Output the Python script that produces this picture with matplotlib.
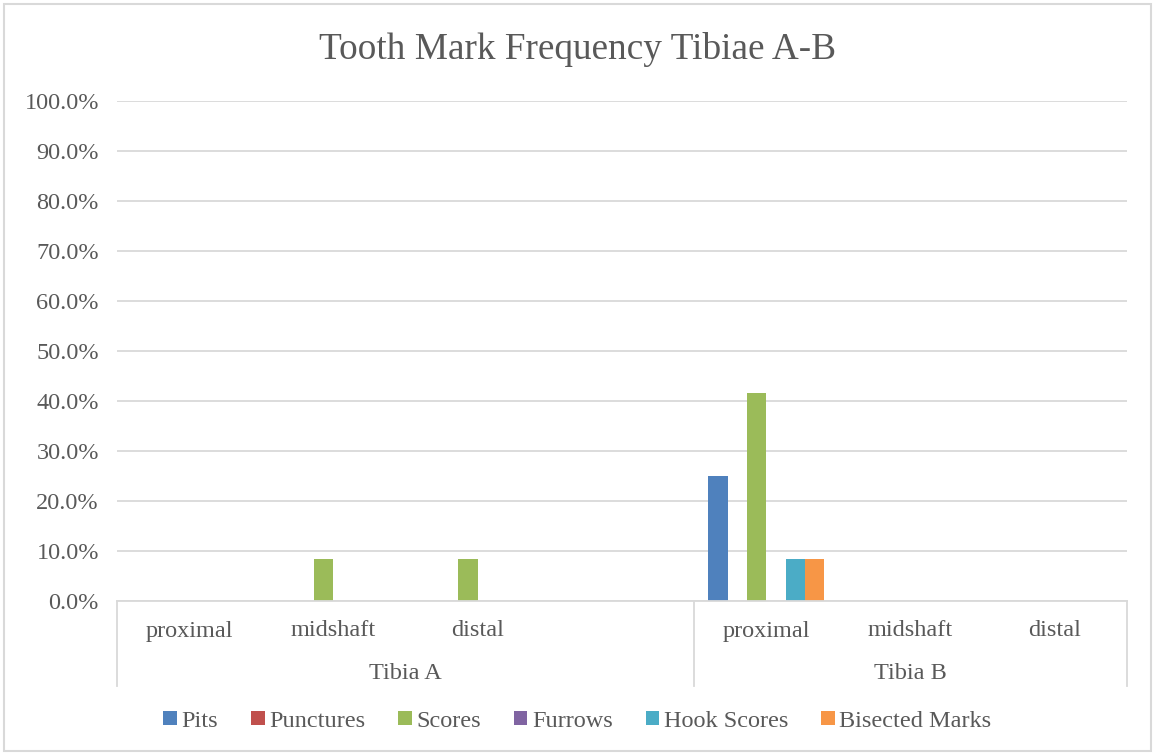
import numpy as np
import matplotlib.pyplot as plt
from matplotlib.patches import Rectangle
from matplotlib.transforms import blended_transform_factory

plt.rcParams['font.family'] = ['Liberation Serif', 'DejaVu Serif']

# category slots: Tibia A has an empty fourth slot
parts = ["proximal", "midshaft", "distal", "", "proximal", "midshaft", "distal"]
groups = ["Tibia A", "Tibia B"]
group_spans = [(0, 3), (4, 6)]

series = ["Pits", "Punctures", "Scores", "Furrows", "Hook Scores", "Bisected Marks"]
colors = ["#4F81BD", "#C0504D", "#9BBB59", "#8064A2", "#4BACC6", "#F79646"]

pits = [0, 0, 0, 0, 25.0, 0, 0]
punctures = [0, 0, 0, 0, 0, 0, 0]
scores = [0, 8.33, 8.33, 0, 41.67, 0, 0]
furrows = [0, 0, 0, 0, 0, 0, 0]
hook_scores = [0, 0, 0, 0, 8.33, 0, 0]
bisected = [0, 0, 0, 0, 8.33, 0, 0]
values = [pits, punctures, scores, furrows, hook_scores, bisected]

text_color = "#595959"
grid_color = "#D9D9D9"

fig = plt.figure(figsize=(11.55, 7.55), dpi=100)
ax = fig.add_axes([117 / 1155, 154 / 755, 1010 / 1155, 500 / 755])

x = np.arange(len(parts))
bar_w = 0.1337
start = -0.5 + 0.0988
for i, (name, vals, c) in enumerate(zip(series, values, colors)):
    ax.bar(x + start + i * bar_w, vals, width=bar_w, align="edge",
           color=c, label=name, zorder=3)

ax.set_xlim(-0.5, len(parts) - 0.5)
ax.set_ylim(0, 100)
ax.set_yticks(np.arange(0, 101, 10))
ax.set_yticklabels([f"{v:.1f}%" for v in range(0, 101, 10)])
ax.tick_params(axis="y", length=0, pad=13, labelsize=17.5, labelcolor=text_color)
ax.grid(axis="y", color=grid_color, linewidth=1.3, zorder=0)
ax.set_xticks([])
for s in ["top", "right", "left"]:
    ax.spines[s].set_visible(False)
ax.spines["bottom"].set_color(grid_color)
ax.spines["bottom"].set_linewidth(1.3)
ax.spines["bottom"].set_zorder(4)

trans = blended_transform_factory(ax.transData, ax.transAxes)
for xi, lab in zip(x, parts):
    ax.text(xi, -0.06, lab, transform=trans, ha="center", va="center",
            fontsize=17.5, color=text_color)
for g, (a, b) in zip(groups, group_spans):
    ax.text((a + b) / 2, -0.145, g, transform=trans, ha="center", va="center",
            fontsize=17.5, color=text_color)
for xv in [-0.5, 3.5, 6.5]:
    ax.plot([xv, xv], [0, -0.17], transform=trans, color=grid_color,
            linewidth=1.3, clip_on=False)

fig.text(0.5, 0.935, "Tooth Mark Frequency Tibiae A-B", ha="center", va="center",
         fontsize=26.8, color=text_color)

leg = fig.legend(loc="center", bbox_to_anchor=(0.5, 0.045), ncol=6, frameon=False,
                 prop={"family": "Liberation Serif", "size": 17.5},
                 handlelength=0.55, handleheight=0.55,
                 handletextpad=0.2, columnspacing=1.35)
for t in leg.get_texts():
    t.set_color(text_color)

fig.patches.append(Rectangle((4 / 1155, 4 / 755), 1147 / 1155, 747 / 755,
                             transform=fig.transFigure, fill=False,
                             edgecolor=grid_color, linewidth=1.5))

fig.savefig("out.png", dpi=100)
